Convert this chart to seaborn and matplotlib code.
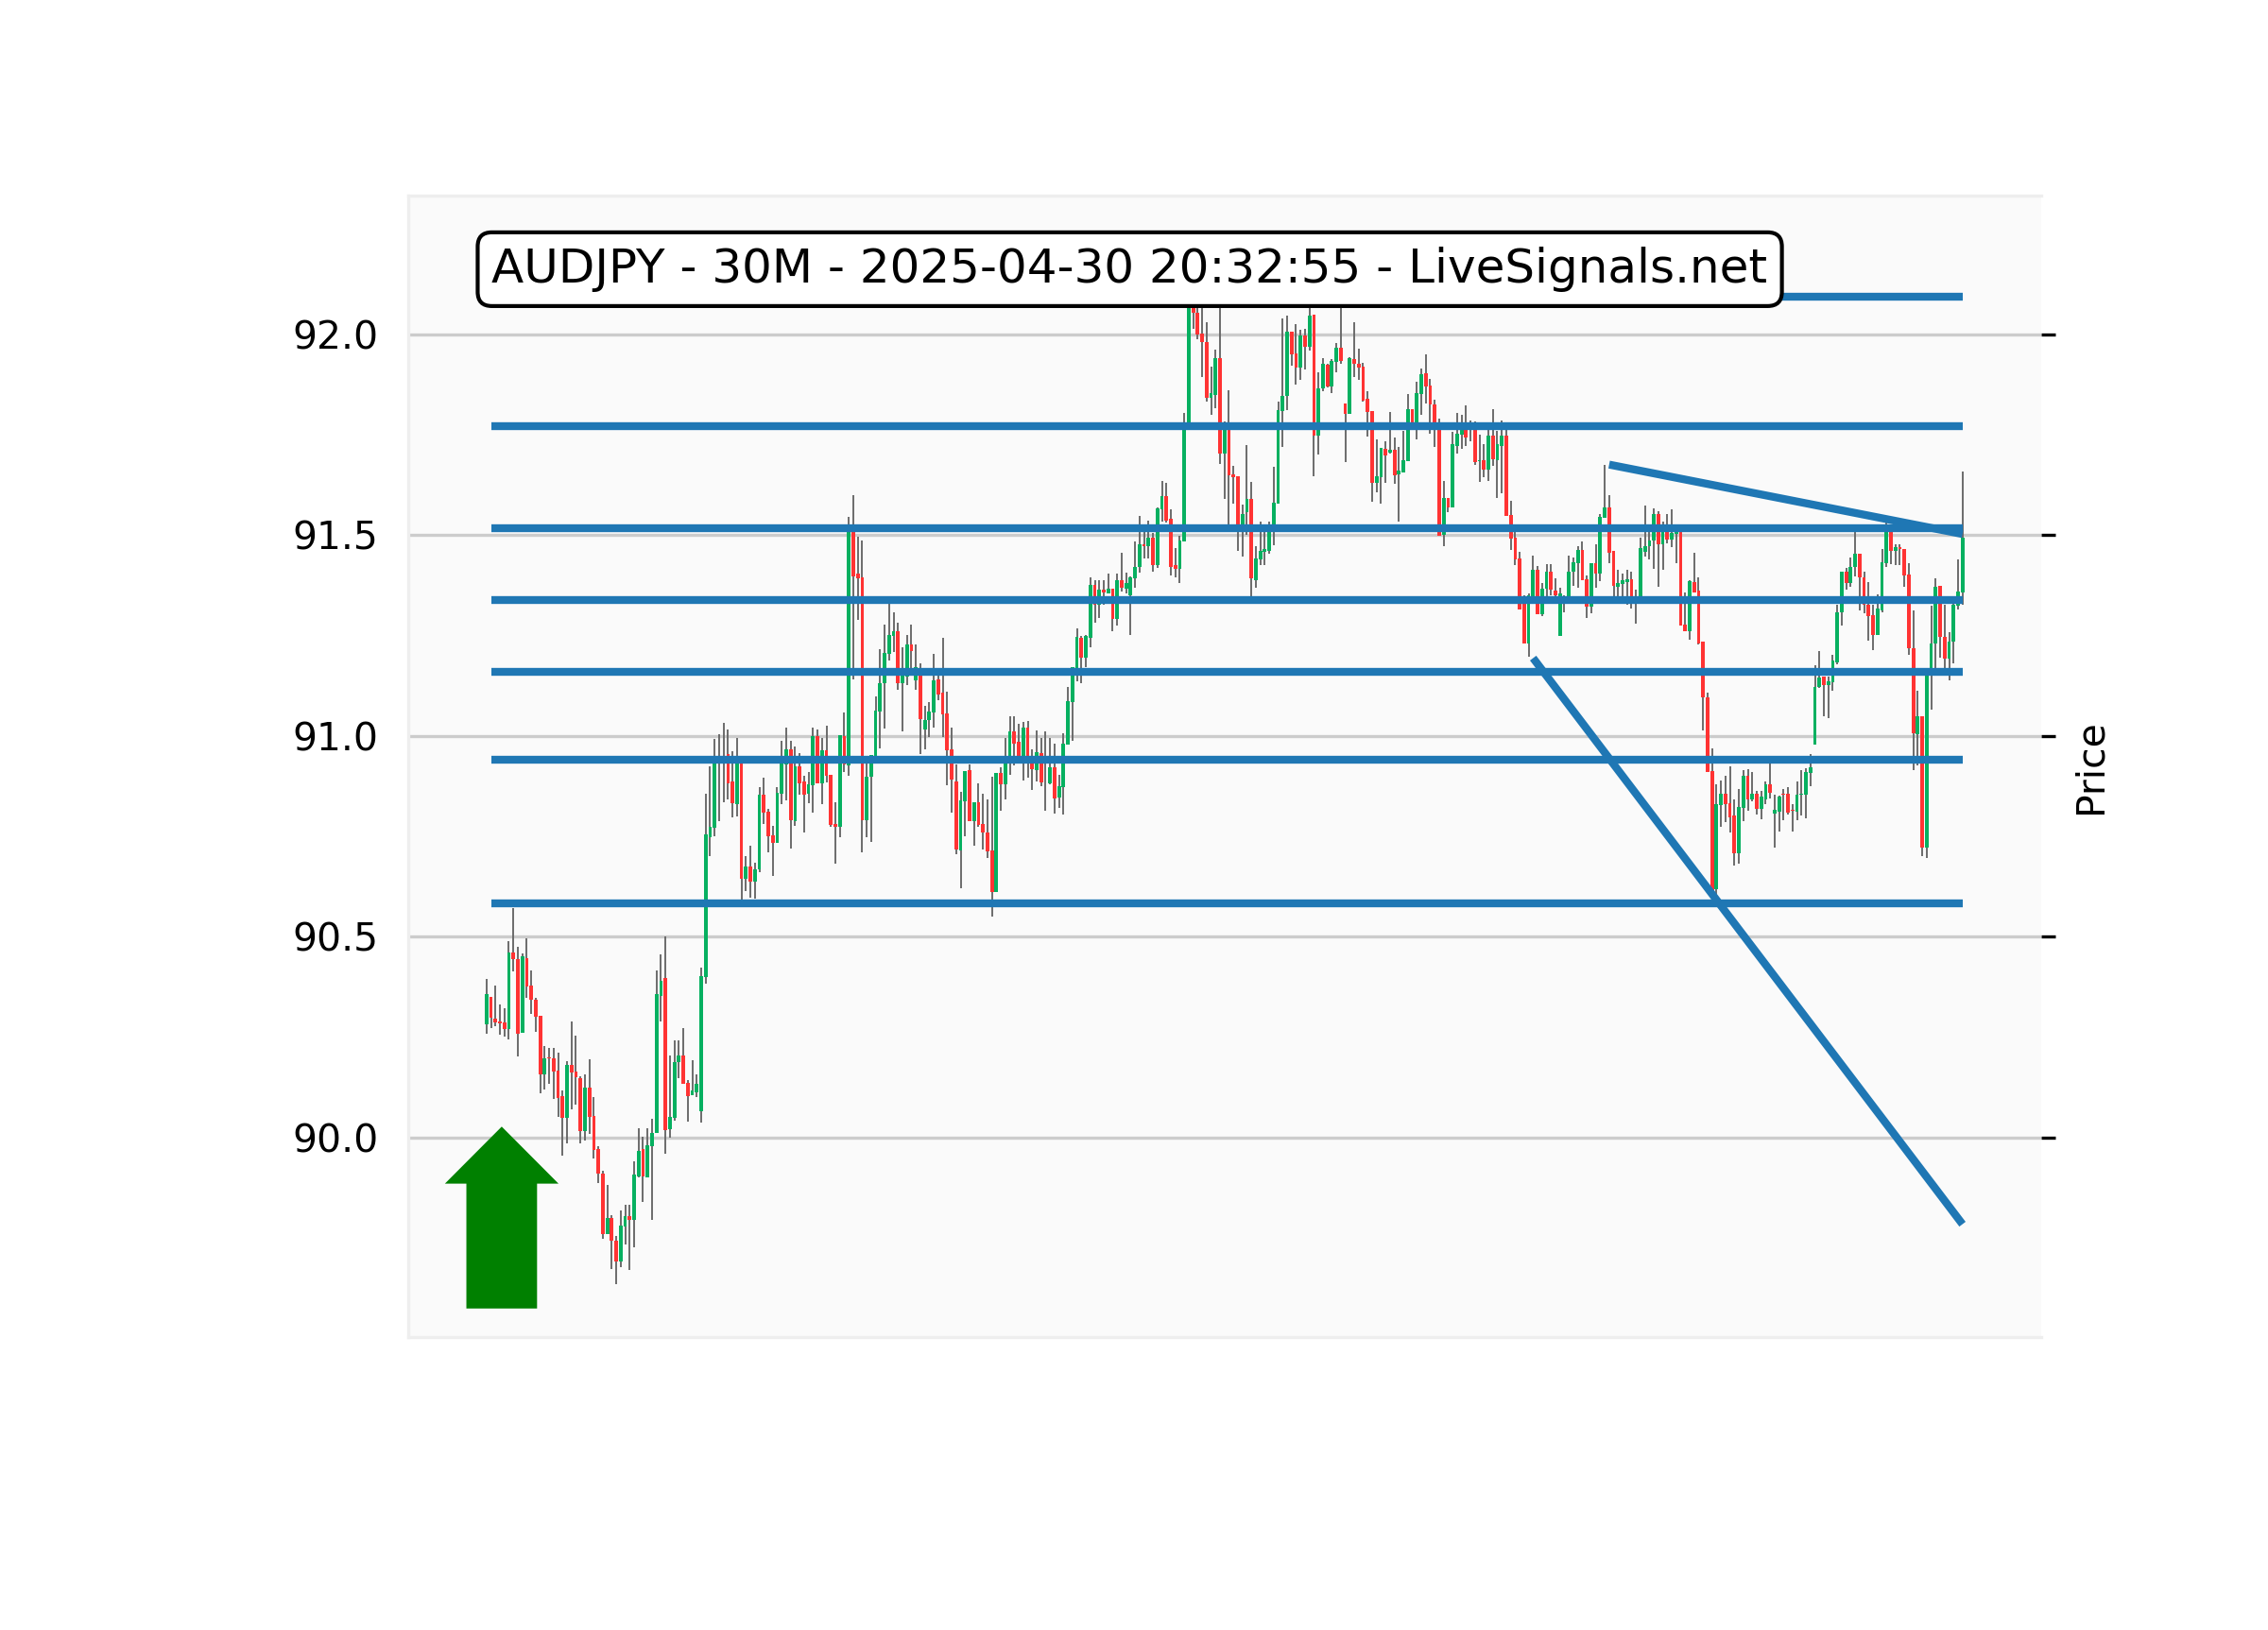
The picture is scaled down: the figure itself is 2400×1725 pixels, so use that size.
import matplotlib
matplotlib.use('Agg')
import matplotlib.pyplot as plt
import numpy as np
import pandas as pd
import seaborn as sns

opens = [90.282,90.350,90.296,90.289,90.287,90.270,90.461,90.445,90.260,90.447,
90.379,90.344,90.303,90.158,90.200,90.198,90.167,90.103,90.049,90.181,
90.164,90.148,90.017,90.124,90.054,89.972,89.911,89.760,89.800,89.743,
89.692,89.778,89.804,89.795,89.902,89.972,89.901,89.979,90.011,90.352,
90.398,90.020,90.049,90.187,90.204,90.136,90.105,90.112,90.065,90.400,
90.748,90.771,90.938,90.935,90.955,90.886,90.831,90.937,90.645,90.676,
90.638,90.668,90.854,90.811,90.753,90.734,90.856,90.929,90.967,90.788,
90.924,90.886,90.857,90.878,91.000,90.882,90.964,90.904,90.781,90.773,
91.000,90.927,91.510,91.405,91.395,90.791,90.898,90.951,91.061,91.132,
91.205,91.249,91.261,91.132,91.147,91.227,91.139,91.151,91.016,91.040,
91.058,91.141,91.108,91.056,90.967,90.887,90.715,90.837,90.915,90.788,
90.835,90.781,90.760,90.715,90.612,90.908,90.880,90.932,91.012,90.985,
90.932,91.021,90.936,90.916,90.958,90.935,90.881,90.922,90.846,90.873,
90.979,91.085,91.167,91.245,91.194,91.245,91.376,91.328,91.365,91.355,
91.367,91.291,91.388,91.368,91.350,91.393,91.421,91.477,91.473,91.494,
91.425,91.564,91.597,91.540,91.425,91.417,91.485,91.782,92.100,92.053,
92.002,91.981,91.843,91.849,91.941,91.703,91.763,91.651,91.646,91.507,
91.557,91.590,91.389,91.441,91.459,91.461,91.507,91.578,91.809,91.847,
92.006,91.953,91.917,91.998,91.969,92.049,91.748,91.866,91.924,91.870,
91.932,91.967,91.828,91.802,91.939,91.928,91.920,91.841,91.809,91.631,
91.644,91.715,91.705,91.712,91.651,91.657,91.684,91.814,91.763,91.851,
91.903,91.873,91.827,91.770,91.502,91.594,91.570,91.723,91.751,91.763,
91.770,91.763,91.685,91.688,91.664,91.748,91.686,91.722,91.748,91.550,
91.493,91.443,91.329,91.231,91.346,91.415,91.304,91.366,91.410,91.363,
91.249,91.335,91.346,91.409,91.430,91.464,91.391,91.322,91.431,91.405,
91.544,91.570,91.460,91.372,91.379,91.384,91.391,91.335,91.345,91.458,
91.472,91.486,91.554,91.477,91.508,91.489,91.504,91.508,91.278,91.260,
91.384,91.363,91.235,91.096,90.913,90.618,90.828,90.856,90.832,90.801,
90.707,90.822,90.901,90.841,90.857,90.819,90.843,90.879,90.806,90.812,
90.856,90.856,90.817,90.812,90.853,90.853,90.908,90.979,91.121,91.149,
91.126,91.133,91.184,91.307,91.410,91.382,91.422,91.455,91.395,91.328,
91.302,91.251,91.312,91.431,91.508,91.462,91.471,91.466,91.403,91.219,
91.005,91.049,90.723,91.151,91.230,91.375,91.248,91.192,91.235,91.324,
91.357]

highs = [90.394,90.350,90.379,90.332,90.323,90.488,90.572,90.476,90.459,90.496,
90.416,90.348,90.303,90.227,90.224,90.222,90.212,90.117,90.191,90.289,
90.253,90.153,90.158,90.194,90.100,89.978,89.916,89.881,89.807,89.754,
89.818,89.833,89.833,89.940,90.024,90.001,90.024,90.047,90.417,90.457,
90.500,90.205,90.241,90.243,90.273,90.142,90.192,90.158,90.422,90.855,
90.925,90.992,91.005,91.032,91.017,90.961,90.996,90.942,90.700,90.726,
90.684,90.873,90.897,90.819,90.775,90.873,90.987,91.020,90.987,90.973,
90.958,90.900,90.911,91.020,91.016,90.996,91.026,90.904,90.834,91.002,
91.059,91.546,91.601,91.496,91.488,90.947,90.953,91.099,91.217,91.278,
91.330,91.307,91.281,91.220,91.252,91.278,91.227,91.182,91.074,91.085,
91.205,91.150,91.245,91.111,91.020,90.928,90.860,90.913,90.930,90.835,
90.881,90.857,90.841,90.898,90.908,90.923,90.994,91.050,91.048,91.030,
91.036,91.038,90.966,91.014,90.994,91.012,90.996,90.980,90.904,91.007,
91.123,91.172,91.269,91.249,91.251,91.395,91.389,91.387,91.387,91.405,
91.367,91.405,91.457,91.408,91.398,91.485,91.549,91.508,91.537,91.506,
91.570,91.635,91.630,91.564,91.468,91.499,91.805,92.150,92.120,92.090,
92.090,92.031,91.920,91.963,92.065,91.784,91.861,91.672,91.646,91.576,
91.724,91.634,91.472,91.533,91.527,91.535,91.670,91.832,92.040,92.048,
92.006,92.026,92.012,92.014,92.065,92.049,91.906,91.941,91.928,91.939,
91.979,92.065,91.828,91.943,92.031,91.965,91.930,91.858,91.809,91.739,
91.717,91.733,91.807,91.744,91.719,91.760,91.852,91.814,91.883,91.916,
91.951,91.890,91.838,91.790,91.635,91.594,91.757,91.805,91.800,91.824,
91.785,91.783,91.751,91.727,91.763,91.814,91.760,91.786,91.763,91.586,
91.507,91.458,91.351,91.356,91.449,91.423,91.381,91.427,91.427,91.392,
91.369,91.350,91.450,91.444,91.472,91.484,91.399,91.431,91.477,91.554,
91.676,91.599,91.460,91.414,91.404,91.415,91.410,91.364,91.493,91.573,
91.513,91.568,91.559,91.535,91.552,91.564,91.520,91.516,91.358,91.389,
91.457,91.394,91.235,91.109,90.970,90.879,90.890,90.901,90.925,90.841,
90.867,90.914,90.918,90.911,90.863,90.863,90.886,90.934,90.854,90.851,
90.869,90.872,90.830,90.886,90.916,90.919,90.956,91.176,91.211,91.149,
91.149,91.203,91.328,91.410,91.418,91.444,91.508,91.455,91.410,91.384,
91.327,91.353,91.466,91.533,91.521,91.477,91.477,91.466,91.430,91.312,
91.112,91.049,91.151,91.324,91.393,91.375,91.328,91.258,91.331,91.439,
91.658]

lows = [90.258,90.273,90.276,90.256,90.251,90.244,90.413,90.202,90.260,90.347,
90.307,90.263,90.110,90.119,90.133,90.096,90.051,89.955,89.986,90.070,
90.082,89.986,89.993,90.008,89.948,89.886,89.747,89.760,89.673,89.634,
89.677,89.733,89.669,89.726,89.901,89.840,89.901,89.794,90.011,90.290,
89.959,89.999,90.042,90.148,90.134,90.039,90.105,90.100,90.037,90.383,
90.701,90.751,90.787,90.835,90.843,90.797,90.799,90.573,90.613,90.597,
90.595,90.660,90.781,90.710,90.651,90.734,90.830,90.839,90.719,90.775,
90.853,90.759,90.832,90.809,90.882,90.830,90.884,90.773,90.681,90.748,
90.910,90.900,91.140,91.289,90.710,90.748,90.736,90.951,90.969,91.018,
91.189,91.210,91.114,91.011,91.126,91.151,91.114,90.955,90.966,90.997,
91.022,91.090,90.997,90.877,90.809,90.705,90.621,90.750,90.788,90.726,
90.773,90.717,90.697,90.550,90.612,90.813,90.842,90.903,90.927,90.931,
90.889,90.895,90.865,90.886,90.875,90.813,90.879,90.806,90.820,90.804,
90.979,90.989,91.136,91.132,91.171,91.220,91.283,91.295,91.326,91.354,
91.260,91.276,91.360,91.354,91.252,91.370,91.408,91.443,91.443,91.410,
91.419,91.535,91.531,91.401,91.395,91.381,91.485,91.782,92.014,91.989,
91.895,91.833,91.801,91.817,91.678,91.590,91.524,91.579,91.461,91.447,
91.502,91.348,91.370,91.426,91.426,91.454,91.476,91.578,91.719,91.812,
91.923,91.876,91.888,91.912,91.961,91.648,91.700,91.858,91.869,91.853,
91.907,91.928,91.683,91.802,91.893,91.888,91.832,91.746,91.584,91.608,
91.579,91.631,91.704,91.627,91.535,91.656,91.684,91.763,91.739,91.799,
91.829,91.753,91.721,91.499,91.473,91.558,91.570,91.704,91.716,91.723,
91.733,91.676,91.633,91.645,91.635,91.674,91.594,91.605,91.548,91.464,
91.426,91.315,91.231,91.197,91.348,91.304,91.299,91.329,91.350,91.348,
91.249,91.307,91.346,91.375,91.370,91.389,91.295,91.306,91.369,91.385,
91.544,91.430,91.345,91.345,91.345,91.327,91.318,91.280,91.345,91.446,
91.440,91.416,91.372,91.414,91.479,91.471,91.430,91.276,91.262,91.240,
91.358,91.229,91.013,90.911,90.608,90.600,90.774,90.786,90.759,90.678,
90.683,90.788,90.814,90.837,90.805,90.792,90.830,90.844,90.723,90.762,
90.791,90.804,90.762,90.791,90.802,90.796,90.876,90.979,91.119,91.050,
91.045,91.113,91.178,91.274,91.364,91.372,91.398,91.312,91.305,91.238,
91.215,91.251,91.309,91.422,91.429,91.425,91.425,91.371,91.201,90.914,
90.926,90.700,90.695,91.065,91.170,91.194,91.169,91.138,91.182,91.314,
91.328]

closes = [90.357,90.299,90.287,90.285,90.270,90.461,90.445,90.258,90.452,90.376,
90.344,90.301,90.158,90.198,90.196,90.164,90.099,90.049,90.181,90.162,
90.150,90.017,90.124,90.051,89.970,89.909,89.760,89.800,89.742,89.692,
89.781,89.804,89.795,89.908,89.967,89.903,89.980,90.011,90.357,90.389,
90.018,90.052,90.188,90.205,90.134,90.103,90.116,90.134,90.403,90.755,
90.774,90.942,90.946,90.945,90.883,90.833,90.942,90.645,90.676,90.638,
90.668,90.854,90.809,90.750,90.734,90.858,90.932,90.967,90.791,90.924,
90.881,90.854,90.880,91.000,90.882,90.964,90.902,90.778,90.773,91.002,
90.930,91.524,91.398,91.392,90.791,90.898,90.953,91.063,91.132,91.207,
91.252,91.261,91.132,91.151,91.227,91.212,91.171,91.042,91.040,91.061,
91.139,91.103,91.054,90.964,90.892,90.718,90.839,90.913,90.788,90.835,
90.779,90.760,90.713,90.612,90.908,90.880,90.936,91.012,90.980,90.933,
91.021,90.932,90.918,90.960,90.885,90.945,90.922,90.845,90.875,90.981,
91.087,91.171,91.247,91.194,91.249,91.376,91.328,91.365,91.357,91.367,
91.291,91.388,91.369,91.381,91.395,91.421,91.477,91.473,91.494,91.425,
91.567,91.597,91.537,91.422,91.416,91.488,91.778,92.100,92.053,92.000,
91.981,91.843,91.853,91.941,91.703,91.763,91.649,91.644,91.507,91.554,
91.590,91.392,91.443,91.461,91.465,91.507,91.580,91.811,91.848,92.007,
91.950,91.917,91.998,91.969,92.047,91.748,91.867,91.927,91.870,91.934,
91.967,91.935,91.802,91.941,91.927,91.917,91.836,91.807,91.631,91.646,
91.717,91.698,91.712,91.649,91.660,91.688,91.814,91.781,91.853,91.901,
91.870,91.825,91.781,91.499,91.594,91.570,91.726,91.752,91.763,91.744,
91.775,91.683,91.687,91.664,91.748,91.690,91.726,91.748,91.548,91.491,
91.440,91.315,91.231,91.350,91.415,91.304,91.367,91.410,91.364,91.350,
91.356,91.345,91.410,91.433,91.464,91.389,91.322,91.431,91.405,91.546,
91.570,91.457,91.375,91.382,91.387,91.391,91.345,91.345,91.467,91.473,
91.487,91.554,91.477,91.508,91.489,91.506,91.508,91.276,91.262,91.385,
91.358,91.230,91.096,90.911,90.616,90.831,90.856,90.830,90.798,90.707,
90.824,90.901,90.843,90.857,90.819,90.848,90.879,90.859,90.815,90.848,
90.853,90.809,90.813,90.854,90.856,90.911,90.922,91.121,91.146,91.126,
91.137,91.188,91.309,91.410,91.382,91.422,91.455,91.394,91.328,91.299,
91.251,91.317,91.433,91.517,91.462,91.471,91.466,91.399,91.218,91.006,
91.049,90.723,91.151,91.231,91.372,91.246,91.192,91.236,91.326,91.359,
91.493]

levels = [92.095, 91.772, 91.518, 91.339, 91.159, 90.942, 90.583]
level_start = 1
level_end = 330
trend_x = [[251, 330], [234, 330]]
trend_y = [[91.676, 91.503], [91.194, 89.784]]
yticks = [90.0, 90.5, 91.0, 91.5, 92.0]
title = 'AUDJPY - 30M - 2025-04-30 20:32:55 - LiveSignals.net'

sns.set_theme(style='whitegrid', rc={'axes.facecolor': '#fafafa', 'axes.edgecolor': '#eeeeee',
                                     'grid.color': '#cccccc', 'grid.linewidth': 0.8,
                                     'axes.linewidth': 0.8, 'font.size': 9.8,
                                     'text.color': 'black', 'axes.labelcolor': 'black',
                                     'ytick.labelcolor': 'black'})
plt.rcParams['font.family'] = ['DejaVu Sans']

candles = pd.DataFrame({'open': opens, 'high': highs, 'low': lows, 'close': closes})
candles['x'] = np.arange(len(candles))
up = candles['close'] >= candles['open']
body_bottom = candles[['open', 'close']].min(axis=1)
body_height = (candles['close'] - candles['open']).abs()

rows = []
for k, level in enumerate(levels):
    rows.append({'line': f'level{k}', 'x': level_start, 'price': level})
    rows.append({'line': f'level{k}', 'x': level_end, 'price': level})
for k in range(len(trend_x)):
    for tx, ty in zip(trend_x[k], trend_y[k]):
        rows.append({'line': f'trend{k}', 'x': tx, 'price': ty})
lines = pd.DataFrame(rows)

fig = plt.figure(figsize=(8, 5.75), dpi=300)
ax = fig.add_axes([0.18, 0.18, 0.72, 0.70])

ax.vlines(candles['x'], candles['low'], candles['high'], color='#666666', linewidth=0.45, zorder=2)
ax.bar(candles['x'], body_height, bottom=body_bottom, width=0.8,
       color=np.where(up, '#06b060', '#ff3333'), linewidth=0, zorder=3)

sns.lineplot(data=lines, x='x', y='price', units='line', estimator=None, color='#1f77b4',
             linewidth=2, ax=ax, zorder=4, solid_capstyle='butt', legend=False)

ax.arrow(3.4, 89.574, 0, 0.453, width=15.8, head_width=25.4, head_length=0.142,
         length_includes_head=True, color='green', linewidth=0, zorder=5)

ax.set_xlim(-17.5, 347.6)
ax.set_ylim(89.504, 92.346)
ax.set_yticks(yticks)
ax.set_yticklabels([f'{t:.1f}' for t in yticks], fontsize=9.8)
ax.set_xticks([])
ax.set_xlabel('')
ax.grid(axis='x', visible=False)
ax.grid(axis='y', visible=True)
ax.set_axisbelow(True)
ax.tick_params(axis='y', left=False, right=True, labelleft=True, labelright=False,
               length=3.5, width=0.8, color='black', labelcolor='black', pad=4.1, direction='out')
ax.yaxis.set_label_position('right')
ax.set_ylabel('Price', fontsize=9.8, labelpad=4.2, color='black')
ax.spines['right'].set_visible(False)

ax.text(0.0512, 0.9355, title, transform=ax.transAxes, fontsize=12, color='black', ha='left', va='center', zorder=10,
        bbox=dict(boxstyle='round,pad=0.3', facecolor='white', edgecolor='black', linewidth=1))

fig.savefig('out.png', dpi=300)
